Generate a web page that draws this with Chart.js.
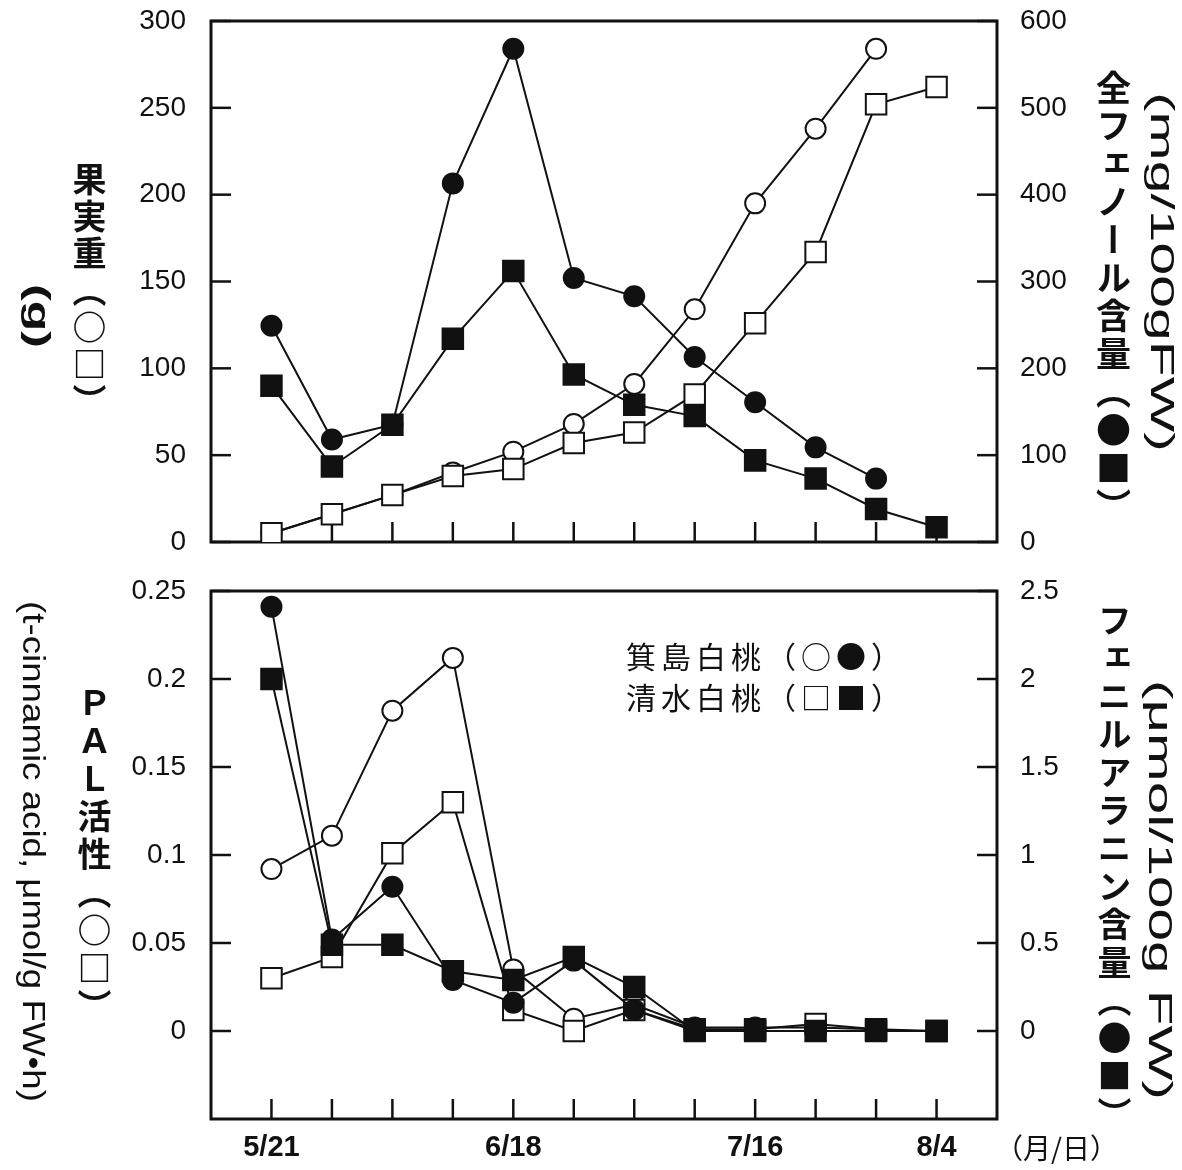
<!DOCTYPE html>
<html><head><meta charset="utf-8">
<script src="https://cdn.jsdelivr.net/npm/chart.js@4.4.1/dist/chart.umd.min.js"></script>
<style>
html,body{margin:0;padding:0;background:#fff;}
#wrap{position:relative;width:1182px;height:1170px;overflow:hidden;background:#fff;}
canvas{position:absolute;left:0;}
#c1{top:0;}
#c2{top:565px;}
.vt{position:absolute;writing-mode:vertical-rl;text-orientation:mixed;color:#111;white-space:nowrap;line-height:1;transform-origin:top left;}
.jp{font-family:'Noto Sans CJK JP','Noto Sans CJK SC',sans-serif;}
.lat{font-family:'Liberation Sans',Arial,sans-serif;}
.ht{position:absolute;color:#111;white-space:nowrap;line-height:1;font-family:'Noto Sans CJK JP',sans-serif;}
</style></head>
<body><div id="wrap">
<canvas id="c1" width="1182" height="560"></canvas>
<canvas id="c2" width="1182" height="605"></canvas>

<div class="vt jp" style="left:72px;top:162px;font-size:34px;font-weight:bold;letter-spacing:3px;">果実重（○□）</div>
<div class="vt lat" data-len="64" style="left:23px;top:284px;font-size:31px;font-weight:bold;">(g)</div>
<div class="vt jp" style="left:1096px;top:70px;font-size:35px;font-weight:bold;letter-spacing:3px;">全フェノール含量（●■）</div>
<div class="vt lat" data-len="360" style="left:1146px;top:92px;font-size:33px;">(mg/100gFW)</div>

<div class="vt jp" style="left:77px;top:685px;font-size:34px;font-weight:bold;letter-spacing:4px;">ＰＡＬ活性（○□）</div>
<div class="vt lat" data-len="501" style="left:18px;top:601px;font-size:32px;">(t-cinnamic acid, μmol/g FW•h)</div>
<div class="vt jp" style="left:1097px;top:603px;font-size:34px;font-weight:bold;letter-spacing:4px;">フェニルアラニン含量（●■）</div>
<div class="vt lat" data-len="420" style="left:1144px;top:680px;font-size:33px;">(μmol/100g FW)</div>

<div class="ht" style="left:626px;top:640px;font-size:30px;letter-spacing:5px;">箕島白桃（○●）</div>
<div class="ht" style="left:626px;top:681px;font-size:30px;letter-spacing:5px;">清水白桃（□■）</div>
<div class="ht" style="left:995px;top:1133px;font-size:28px;">（月/日）</div>
</div>
<script>
// ---- data ----
const sampleLabels = ['5/21','','','','6/18','','','','7/16','','','8/4'];
const xIdx = [0,1,2,3,4,5,6,7,8,9,10,11];

// top panel: fruit weight (g, left) and total phenol (mg/100gFW, right)
const weightMishima = [5, 16, 27, 40, 52, 68, 91, 134, 195, 238, 284, null];
const weightShimizu = [5, 16, 27, 38, 42, 57, 63, 85, 126, 167, 252, 262];
const phenolMishima = [249, 118, 135, 413, 568, 304, 283, 213, 161, 109, 73, null];
const phenolShimizu = [180, 87, 135, 234, 312, 193, 158, 145, 94, 73, 38, 17];

// bottom panel: PAL activity (left) and phenylalanine (right)
const palMishima = [0.092, 0.111, 0.182, 0.212, 0.035, 0.007, 0.015, 0.002, 0.002, 0.002, 0.001, null];
const palShimizu = [0.030, 0.042, 0.101, 0.130, 0.012, 0.000, 0.012, 0.001, 0.001, 0.004, 0.001, 0.000];
const pheMishima = [2.41, 0.52, 0.82, 0.29, 0.16, 0.40, 0.12, 0, 0, 0, 0, null];
const pheShimizu = [2.00, 0.49, 0.49, 0.34, 0.29, 0.42, 0.25, 0, 0, 0, 0, 0];

const topLeftTicks = {min:0, max:300, step:50};
const topRightTicks = {min:0, max:600, step:100};
const botLeftTicks = {min:-0.05, max:0.25, step:0.05};
const botRightTicks = {min:-0.5, max:2.5, step:0.5};

// ---- helpers ----
function pts(arr){ return arr.map((v,i)=>({x:xIdx[i], y:v})); }
function ds(label, data, axis, style, filled){
  return {label, data:pts(data), yAxisID:axis, borderColor:'#111', borderWidth:2,
    pointStyle:style, pointRadius: style==='rect'?14.5:10, pointHoverRadius: style==='rect'?14.5:10,
    pointBackgroundColor: filled?'#111':'#fff', pointBorderColor:'#111', pointBorderWidth:2,
    fill:false, tension:0, spanGaps:false};
}
function fmt(v){ if (v < -1e-9) return ''; const r = Math.round(v*100)/100; return String(r); }

const frame = {
  id:'frame',
  beforeDatasetsDraw(chart){
    const {ctx, chartArea:a} = chart;
    ctx.save();
    ctx.strokeStyle='#111';
    ctx.lineWidth=3;
    ctx.strokeRect(a.left, a.top, a.right-a.left, a.bottom-a.top);
    ctx.lineWidth=2.5;
    const L=20;
    const line=(x1,y1,x2,y2)=>{ctx.beginPath();ctx.moveTo(x1,y1);ctx.lineTo(x2,y2);ctx.stroke();};
    const xs = chart.scales.x;
    xIdx.forEach(i=>{ const px = xs.getPixelForValue(i); line(px, a.bottom, px, a.bottom-L); });
    ['yL','yR'].forEach(id=>{
      const s = chart.scales[id];
      s.ticks.forEach(t=>{
        if (t.value < -1e-9) return;
        const py = s.getPixelForValue(t.value);
        if (id==='yL') line(a.left, py, a.left+L, py); else line(a.right, py, a.right-L, py);
      });
    });
    ctx.restore();
  }
};

const tickFont = {family:"'Liberation Sans Narrow', 'Liberation Sans', Arial, sans-serif", size:28};

function yScale(pos, tk, width, pad){
  return {type:'linear', position:pos, min:tk.min, max:tk.max,
    grid:{display:false, drawTicks:false}, border:{display:false},
    ticks:{stepSize:tk.step, padding:pad, color:'#111', callback:(v)=>fmt(v), font:tickFont},
    afterFit:(s)=>{ s.width = width; s.paddingTop = 0; s.paddingBottom = 0; }};
}
function xScale(showLabels, height){
  return {type:'linear', min:-1, max:12,
    grid:{display:false, drawTicks:false}, border:{display:false},
    ticks:{display:showLabels, stepSize:1, autoSkip:false, maxRotation:0, padding:12, color:'#111',
      callback:(v)=> (Number.isInteger(v) && v>=0 && v<sampleLabels.length) ? sampleLabels[v] : '',
      font:{family:"'Liberation Sans', Arial, sans-serif", size:29, weight:'bold'}},
    afterFit:(s)=>{ s.height = height; s.paddingLeft = 0; s.paddingRight = 0; }};
}
function baseOpts(top, xs, yl, yr){
  return {responsive:false, animation:false, events:[],
    layout:{padding:{top:top, left:0, right:0, bottom:0}},
    plugins:{legend:{display:false}, tooltip:{enabled:false}},
    scales:{x:xs, yL:yl, yR:yr}};
}

new Chart(document.getElementById('c1'), {
  type:'line',
  data:{datasets:[
    ds('清水白桃 全フェノール', phenolShimizu, 'yR', 'rect', true),
    ds('箕島白桃 全フェノール', phenolMishima, 'yR', 'circle', true),
    ds('清水白桃 果実重', weightShimizu, 'yL', 'rect', false),
    ds('箕島白桃 果実重', weightMishima, 'yL', 'circle', false)
  ]},
  options: baseOpts(21, xScale(false, 18), yScale('left', topLeftTicks, 211, 25), yScale('right', topRightTicks, 185, 23)),
  plugins:[frame]
});

new Chart(document.getElementById('c2'), {
  type:'line',
  data:{datasets:[
    ds('清水白桃 フェニルアラニン', pheShimizu, 'yR', 'rect', true),
    ds('箕島白桃 フェニルアラニン', pheMishima, 'yR', 'circle', true),
    ds('清水白桃 PAL', palShimizu, 'yL', 'rect', false),
    ds('箕島白桃 PAL', palMishima, 'yL', 'circle', false)
  ]},
  options: baseOpts(26, xScale(true, 51), yScale('left', botLeftTicks, 211, 25), yScale('right', botRightTicks, 185, 23)),
  plugins:[frame]
});

// stretch Latin unit columns to their length
document.querySelectorAll('.vt[data-len]').forEach(el=>{
  const target = parseFloat(el.dataset.len);
  const h = el.getBoundingClientRect().height;
  if (h > 0) el.style.transform = 'scaleY(' + (target/h) + ')';
});
</script>
</body></html>
